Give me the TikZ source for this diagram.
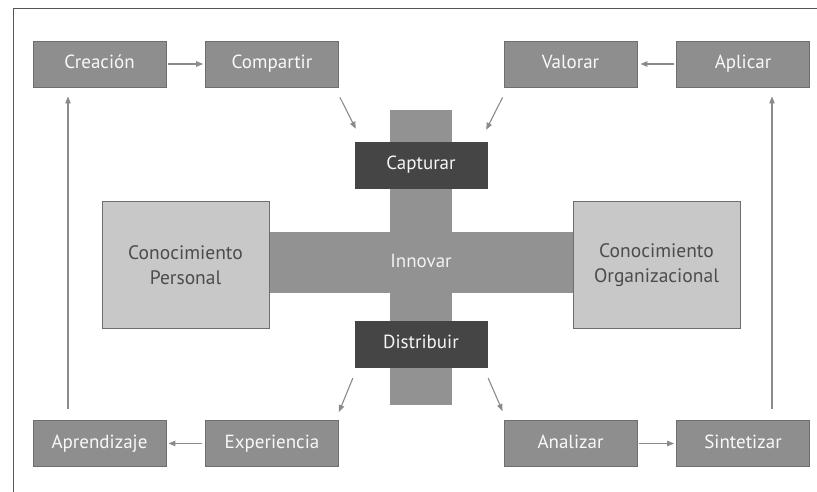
\documentclass[tikz,border=0pt]{standalone}
\usepackage{fontspec}
\setmainfont{PT Sans}
\usetikzlibrary{arrows.meta}
\definecolor{midgray}{HTML}{8E8E8E}
\definecolor{midborder}{HTML}{6E6E6E}
\definecolor{darkbox}{HTML}{454545}
\definecolor{lightbox}{HTML}{C8C8C8}
\definecolor{barfill}{HTML}{929292}
\definecolor{arrowgray}{HTML}{8A8A8A}
\definecolor{frameline}{HTML}{555555}
\tikzset{
  boxfont/.style={font=\fontsize{19}{22}\selectfont, text height=13pt, text depth=4pt},
  stepbox/.style={draw=midborder, line width=0.9pt, fill=midgray, text=white!95!gray,
    minimum width=133pt, minimum height=46pt, inner sep=0pt, boxfont},
  darkstep/.style={draw=darkbox, fill=darkbox, text=white!92!gray,
    minimum width=132pt, minimum height=46pt, inner sep=0pt, boxfont},
  knowbox/.style={draw=midborder, line width=0.9pt, fill=lightbox, text=black!70,
    minimum width=167pt, minimum height=127pt, inner sep=0pt, align=center,
    font=\fontsize{19.5}{25}\selectfont},
  barshape/.style={fill=barfill, draw=none, inner sep=0pt},
  arr/.style={draw=arrowgray, line width=1.1pt, -{Triangle[length=7pt,width=5.5pt]}},
}
\begin{document}
\begin{tikzpicture}[x=1pt,y=-1pt]
\useasboundingbox (0,0) rectangle (817,492);
% frame
\draw[frameline, line width=1pt] (13,492) -- (13,9) -- (817,9);
% bars
\node[barshape, minimum width=304pt, minimum height=61pt] (hbar) at (421,262.5) {};
\node[barshape, minimum width=62pt, minimum height=295pt] (vbar) at (421,257.5) {};
\node[text=white!90!gray, boxfont] (innovar) at (421,263) {Innovar};
% central dark boxes
\node[darkstep] (capt) at (421,165) {Capturar};
\node[darkstep] (dist) at (421,344) {Distribuir};
% knowledge boxes
\node[knowbox] (cp) at (185.5,265) {Conocimiento\\Personal};
\node[knowbox] (co) at (656.5,265) {Conocimiento\\Organizacional};
% outer boxes
\node[stepbox] (crea) at (99.5,64) {Creación};
\node[stepbox] (comp) at (272,64) {Compartir};
\node[stepbox] (valo) at (570.5,64) {Valorar};
\node[stepbox] (apli) at (743,64) {Aplicar};
\node[stepbox] (apre) at (99.5,443.5) {Aprendizaje};
\node[stepbox] (expe) at (272,443.5) {Experiencia};
\node[stepbox] (anal) at (570.5,443.5) {Analizar};
\node[stepbox] (sint) at (743,443.5) {Sintetizar};
% vertical long arrows
\coordinate (lstart) at (68,409);
\coordinate (rstart) at (772,409);
\draw[arr, shorten >=9pt] (lstart) -- (lstart |- crea.south);
\draw[arr, shorten >=9pt] (rstart) -- (rstart |- apli.south);
% horizontal arrows
\draw[arr, shorten <=2pt, shorten >=2pt] (crea.east) -- (comp.west);
\draw[arr, shorten <=2pt, shorten >=3pt] (apli.west) -- (valo.east);
\draw[arr, shorten <=3pt, shorten >=2pt] (expe.west) -- (apre.east);
\draw[arr, shorten <=2pt, shorten >=2pt] (anal.east) -- (sint.west);
% diagonal arrows
\draw[arr] ([shift={(1,10)}]comp.south east) -- ([shift={(1,-13)}]capt.north west);
\draw[arr] ([shift={(-1,10)}]valo.south west) -- ([shift={(-1,-12)}]capt.north east);
\draw[arr] ([shift={(-2,11)}]dist.south west) -- ([shift={(0,-8)}]expe.north east);
\draw[arr] ([shift={(1,11)}]dist.south east) -- ([shift={(-1,-9)}]anal.north west);
\end{tikzpicture}
\end{document}
